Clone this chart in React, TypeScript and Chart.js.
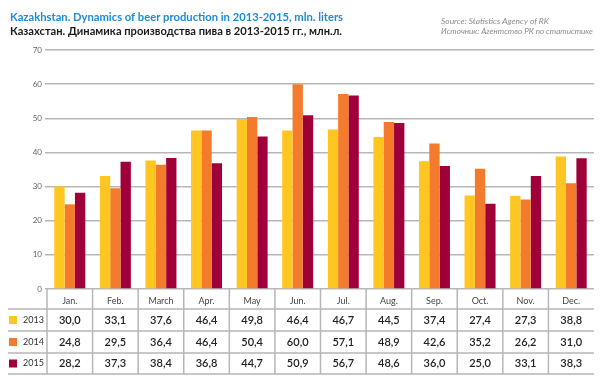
import React, { useEffect, useRef } from 'react';
import { Chart, registerables } from 'chart.js';

Chart.register(...registerables);

const months = ['Jan.', 'Feb.', 'March', 'Apr.', 'May', 'Jun.', 'Jul.', 'Aug.', 'Sep.', 'Oct.', 'Nov.', 'Dec.'];
const years = ['2013', '2014', '2015'];
const values2013 = [30.0, 33.1, 37.6, 46.4, 49.8, 46.4, 46.7, 44.5, 37.4, 27.4, 27.3, 38.8];
const values2014 = [24.8, 29.5, 36.4, 46.4, 50.4, 60.0, 57.1, 48.9, 42.6, 35.2, 26.2, 31.0];
const values2015 = [28.2, 37.3, 38.4, 36.8, 44.7, 50.9, 56.7, 48.6, 36.0, 25.0, 33.1, 38.3];
const seriesValues = [values2013, values2014, values2015];
const seriesColors = ['#FFC520', '#F47A2C', '#A0003A'];

const titleEn = 'Kazakhstan. Dynamics of beer production in 2013-2015, mln. liters';
const titleRu = 'Казахстан. Динамика производства пива в 2013-2015 гг., млн.л.';
const sourceEn = 'Source: Statistics Agency of RK';
const sourceRu = 'Источник: Агентство РК по статистике';

const FONT = 'Lato, "Open Sans", sans-serif';
const LINE = '#b7b7b7';

function fitText(ctx: CanvasRenderingContext2D, text: string, x: number, y: number, width: number, font: string, color: string) {
  ctx.save();
  ctx.font = font;
  ctx.fillStyle = color;
  ctx.textAlign = 'left';
  ctx.textBaseline = 'alphabetic';
  const w = ctx.measureText(text).width;
  const s = w > 0 ? width / w : 1;
  ctx.translate(x, y);
  ctx.scale(s, 1);
  ctx.fillText(text, 0, 0);
  ctx.restore();
}

const fmt = (v: number) => v.toFixed(1).replace('.', ',');

const headerPlugin = {
  id: 'headerText',
  afterDraw(chart: any) {
    const ctx: CanvasRenderingContext2D = chart.ctx;
    fitText(ctx, titleEn, 10, 20.5, 333, `bold 11px ${FONT}`, '#1E8BD3');
    fitText(ctx, titleRu, 10, 34.5, 332, `bold 11px ${FONT}`, '#1b1b1b');
    fitText(ctx, sourceEn, 441, 23.5, 108, `italic 8px ${FONT}`, '#8c8c8c');
    fitText(ctx, sourceRu, 441, 33.5, 152, `italic 8px ${FONT}`, '#8c8c8c');
  },
};

const tablePlugin = {
  id: 'dataTable',
  afterDraw(chart: any) {
    const ctx: CanvasRenderingContext2D = chart.ctx;
    const area = chart.chartArea;
    const xs = chart.scales.x;
    const top = area.bottom;
    const left = area.left;
    const right = area.right;
    const n = months.length;
    const cw = (right - left) / n;
    const lines = [top + 20, top + 42, top + 64, top + 85];
    ctx.save();
    ctx.strokeStyle = LINE;
    ctx.lineWidth = 1.5;
    ctx.beginPath();
    lines.forEach((y) => {
      ctx.moveTo(8, y);
      ctx.lineTo(right, y);
    });
    for (let i = 0; i < n; i++) {
      const x = left + i * cw;
      ctx.moveTo(x, top);
      ctx.lineTo(x, lines[3]);
    }
    ctx.stroke();

    // header
    ctx.textAlign = 'center';
    ctx.textBaseline = 'middle';
    ctx.font = `9px ${FONT}`;
    ctx.fillStyle = '#444';
    months.forEach((m, i) => {
      ctx.fillText(m, xs.getPixelForValue(i), (top + lines[0]) / 2 + 2);
    });

    // rows
    years.forEach((yr, r) => {
      const yc = (lines[r] + lines[r + 1]) / 2;
      ctx.fillStyle = seriesColors[r];
      ctx.fillRect(9, yc - 4, 8, 8);
      ctx.textAlign = 'left';
      ctx.font = `9px ${FONT}`;
      ctx.fillStyle = '#333';
      ctx.fillText(yr, 23, yc);
      ctx.textAlign = 'center';
      ctx.font = `600 11px ${FONT}`;
      ctx.fillStyle = '#222';
      seriesValues[r].forEach((v, i) => {
        ctx.fillText(fmt(v), xs.getPixelForValue(i), yc);
      });
    });
    ctx.restore();
  },
};

export default function App() {
  const ref = useRef<HTMLCanvasElement>(null);

  useEffect(() => {
    if (!ref.current) return;
    const chart = new Chart(ref.current, {
      type: 'bar',
      data: {
        labels: months,
        datasets: years.map((y, i) => ({
          label: y,
          data: seriesValues[i],
          backgroundColor: seriesColors[i],
          borderWidth: 0,
          barPercentage: 1,
          categoryPercentage: 0.68,
        })),
      },
      options: {
        animation: false,
        responsive: false,
        devicePixelRatio: 1,
        layout: { padding: { top: 50, left: 0, right: 6, bottom: 91 } },
        plugins: {
          legend: { display: false },
          tooltip: { enabled: false },
          title: { display: false },
        },
        scales: {
          x: { display: false },
          y: {
            min: 0,
            max: 70,
            ticks: { stepSize: 10, font: { family: FONT, size: 8 }, color: '#666', padding: 3 },
            grid: { color: LINE, lineWidth: 1.5, tickLength: 2, drawTicks: true },
            border: { display: false },
            afterFit: (scale: any) => {
              scale.width = 47;
            },
          },
        },
      },
      plugins: [headerPlugin, tablePlugin],
    });
    return () => chart.destroy();
  }, []);

  return (
    <div style={{ position: 'absolute', left: 0, top: 0, width: 600, height: 380, background: '#fff' }}>
      <canvas ref={ref} width={600} height={380} style={{ display: 'block' }} />
    </div>
  );
}
